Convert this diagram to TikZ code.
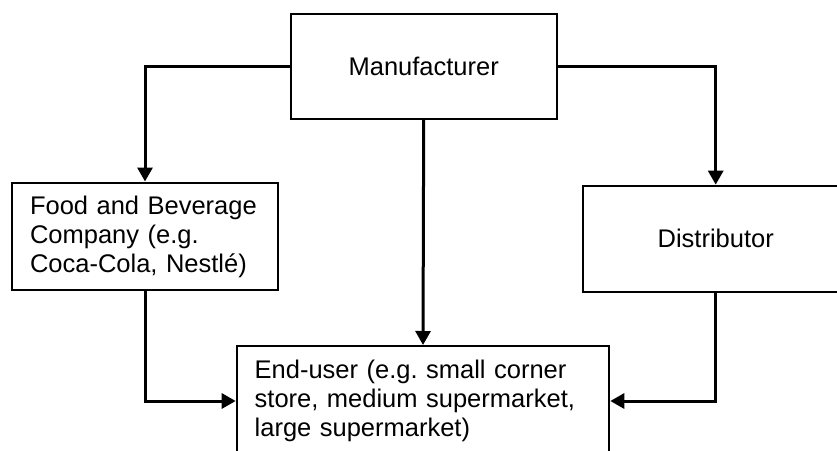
\documentclass[tikz,border=0pt]{standalone}
\usepackage{fontspec}
\setmainfont{Liberation Sans}
\usetikzlibrary{arrows.meta}
\tikzset{
  box/.style={draw=black, line width=2pt, rectangle, inner sep=0pt, inner xsep=18pt,
    font=\fontsize{25.5}{29}\selectfont\frenchspacing},
  conn/.style={draw=black, line width=3pt, -{Triangle[width=15pt,length=14pt]}}
}
\begin{document}
\begin{tikzpicture}[x=1pt,y=-1pt]
\useasboundingbox (0,0) rectangle (837,450);
\fill[white] (0,0) rectangle (837,450);
\clip (0,0) rectangle (837,450);
\node[box, minimum width=266pt, minimum height=105pt, align=center] (manu) at (423.7,66.5) {Manufacturer};
\node[box, text width=230pt, minimum height=107pt, align=left] (food) at (145,236) {\strut Food and Beverage\\Company (e.g.\\Coca-Cola, Nestlé)};
\node[box, minimum width=266pt, minimum height=106.3pt, align=center] (dist) at (715.7,238.8) {Distributor};
\node[box, text width=336.6pt, minimum height=110pt, align=left] (end) at (423,401) {End-user (e.g. small corner\\store, medium supermarket,\\large supermarket)};
\draw[conn] (manu.west) -| (food.north);
\draw[conn] (manu.east) -| (dist.north);
\draw[conn] (manu.south) -- (end.north);
\draw[conn] (food.south) |- (end.west);
\draw[conn] (dist.south) |- (end.east);
\end{tikzpicture}
\end{document}
